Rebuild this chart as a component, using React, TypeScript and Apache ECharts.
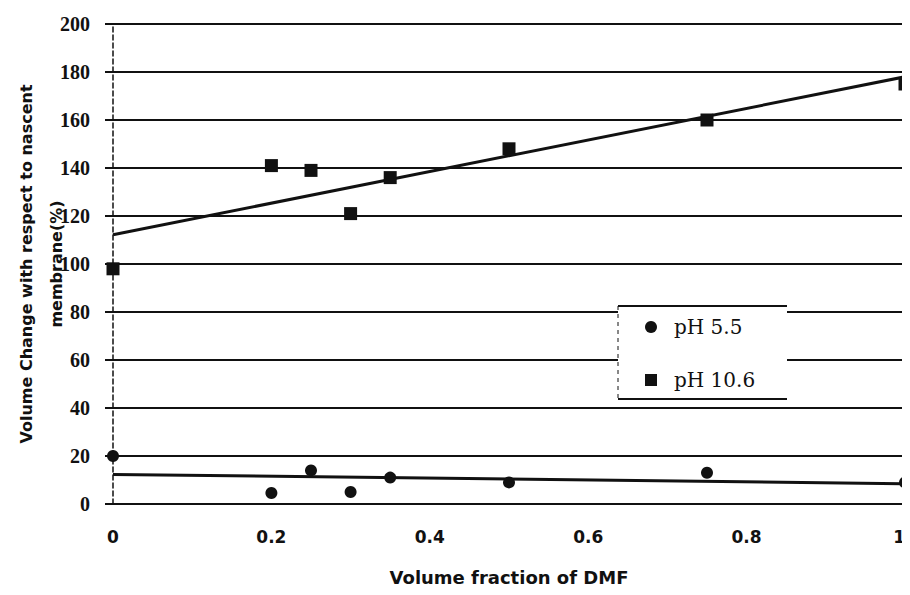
import React, { useEffect, useRef } from "react";
import * as echarts from "echarts";

// Volume fraction of DMF in the casting solution
const dmfFraction = [0, 0.2, 0.25, 0.3, 0.35, 0.5, 0.75, 1];
// Volume change (%) relative to the nascent membrane
const volumeChangePH55 = [20, 4.6, 14, 5, 11, 9, 13, 9];
const volumeChangePH106 = [98, 141, 139, 121, 136, 148, 160, 175];

const xTicks = ["0", "0.2", "0.4", "0.6", "0.8", "1"];
const seriesNames = ["pH 5.5", "pH 10.6"];

// Least-squares straight line through a data set, sampled at both axis ends
function linearFit(xs: number[], ys: number[]): number[][] {
  const n = xs.length;
  const mx = xs.reduce((a, b) => a + b, 0) / n;
  const my = ys.reduce((a, b) => a + b, 0) / n;
  let sxy = 0;
  let sxx = 0;
  for (let i = 0; i < n; i++) {
    sxy += (xs[i] - mx) * (ys[i] - my);
    sxx += (xs[i] - mx) * (xs[i] - mx);
  }
  const slope = sxy / sxx;
  const icpt = my - slope * mx;
  return [
    [0, icpt],
    [1, icpt + slope],
  ];
}

const pairs = (xs: number[], ys: number[]) => xs.map((x, i) => [x, ys[i]]);

const INK = "#111";
const SERIF = "'Liberation Serif', 'Times New Roman', serif";
const SANS = "'DejaVu Sans', sans-serif";

export default function App() {
  const ref = useRef<HTMLDivElement>(null);

  useEffect(() => {
    if (!ref.current) return;
    const chart = echarts.init(ref.current, undefined, { renderer: "svg" });

    chart.setOption({
      animation: false,
      backgroundColor: "#fff",
      grid: {
        left: 113,
        right: 5,
        top: 24,
        bottom: 91,
        containLabel: false,
        outerBoundsMode: "none",
      },
      xAxis: {
        type: "value",
        min: 0,
        max: 1,
        interval: 0.2,
        name: "Volume fraction of DMF",
        nameLocation: "middle",
        nameGap: 64,
        nameMoveOverlap: false,
        nameTextStyle: { fontFamily: SANS, fontWeight: "bold", fontSize: 18, color: INK },
        axisLine: { show: false },
        axisTick: { show: false },
        splitLine: { show: false },
        axisLabel: {
          margin: 24,
          fontFamily: SANS,
          fontWeight: "bold",
          fontSize: 17,
          color: INK,
          alignMaxLabel: "right",
          formatter: (v: number) => xTicks[Math.round(v * 5)] ?? "",
        },
      },
      yAxis: [
        {
          type: "value",
          min: 0,
          max: 200,
          interval: 20,
          name: "Volume Change with respect to nascent\nmembrane(%)",
          nameLocation: "middle",
          nameRotate: 90,
          nameGap: 42,
          nameMoveOverlap: false,
          nameTextStyle: {
            fontFamily: SANS,
            fontWeight: "bold",
            fontSize: 16,
            color: INK,
            lineHeight: 30,
          },
          axisLine: { show: true, lineStyle: { color: INK, width: 1.5, type: [5, 3] } },
          axisTick: { show: true, inside: false, length: 8, lineStyle: { color: INK, width: 2 } },
          axisLabel: {
            margin: 23,
            fontFamily: SERIF,
            fontWeight: "bold",
            fontSize: 20,
            color: INK,
          },
          splitLine: { show: true, lineStyle: { color: INK, width: 2 } },
        },
        {
          type: "value",
          position: "right",
          min: 0,
          max: 200,
          interval: 20,
          axisLine: { show: true, lineStyle: { color: "#aaa", width: 1, type: [2, 6] } },
          axisTick: { show: false },
          axisLabel: { show: false },
          splitLine: { show: false },
        },
      ],
      legend: {
        orient: "vertical",
        left: 640,
        top: 311,
        data: seriesNames,
        itemWidth: 12,
        itemHeight: 12,
        itemGap: 31,
        z: 5,
        textStyle: {
          fontFamily: "'DejaVu Serif', serif",
          fontSize: 20,
          color: INK,
          lineHeight: 22,
          padding: [0, 0, 0, 12],
        },
      },
      graphic: [
        {
          type: "rect",
          z: 3,
          shape: { x: 618, y: 306, width: 169, height: 93 },
          style: { fill: "#fff" },
        },
        {
          type: "line",
          z: 3,
          shape: { x1: 618, y1: 306, x2: 787, y2: 306 },
          style: { stroke: INK, lineWidth: 2 },
        },
        {
          type: "line",
          z: 3,
          shape: { x1: 618, y1: 399, x2: 787, y2: 399 },
          style: { stroke: INK, lineWidth: 2 },
        },
        {
          type: "line",
          z: 3,
          shape: { x1: 618, y1: 306, x2: 618, y2: 399 },
          style: { stroke: INK, lineWidth: 1, lineDash: [4, 4] },
        },
      ],
      series: [
        {
          name: seriesNames[0],
          type: "scatter",
          symbol: "circle",
          symbolSize: 12,
          itemStyle: { color: INK, opacity: 1 },
          data: pairs(dmfFraction, volumeChangePH55),
          z: 2,
        },
        {
          name: seriesNames[1],
          type: "scatter",
          symbol: "rect",
          symbolSize: 13,
          itemStyle: { color: INK, opacity: 1 },
          data: pairs(dmfFraction, volumeChangePH106),
          z: 2,
        },
        {
          name: "fit pH 5.5",
          type: "line",
          data: linearFit(dmfFraction, volumeChangePH55),
          symbol: "none",
          silent: true,
          lineStyle: { color: INK, width: 3 },
          z: 1,
        },
        {
          name: "fit pH 10.6",
          type: "line",
          data: linearFit(dmfFraction, volumeChangePH106),
          symbol: "none",
          silent: true,
          lineStyle: { color: INK, width: 3 },
          z: 1,
        },
      ],
    });

    return () => chart.dispose();
  }, []);

  return <div ref={ref} style={{ width: 910, height: 595, margin: -8 }} />;
}
